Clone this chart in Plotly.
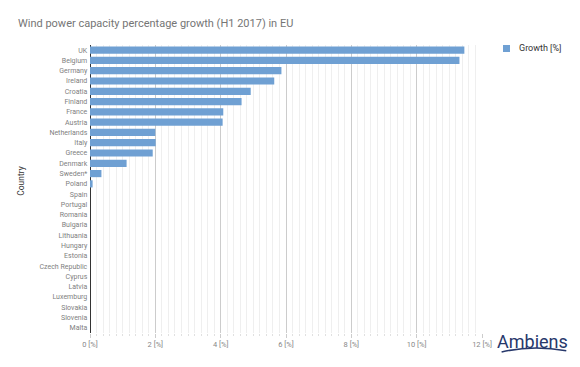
import plotly.graph_objects as go

countries = ["UK", "Belgium", "Germany", "Ireland", "Croatia", "Finland", "France", "Austria",
             "Netherlands", "Italy", "Greece", "Denmark", "Sweden*", "Poland", "Spain", "Portugal",
             "Romania", "Bulgaria", "Lithuania", "Hungary", "Estonia", "Czech Republic", "Cyprus",
             "Latvia", "Luxemburg", "Slovakia", "Slovenia", "Malta"]
growth = [11.46, 11.31, 5.86, 5.64, 4.92, 4.64, 4.08, 4.06,
          2.0, 2.01, 1.92, 1.12, 0.35, 0.08, 0, 0,
          0, 0, 0, 0, 0, 0, 0,
          0, 0, 0, 0, 0]
tick_vals = [0, 2, 4, 6, 8, 10, 12]
tick_text = ["0 [%]", "2 [%]", "4 [%]", "6 [%]", "8 [%]", "10 [%]", "12 [%]"]
series_name = "Growth [%]"
bar_color = "#6fa0d3"

fig = go.Figure()
fig.add_trace(go.Bar(
    y=countries, x=growth, orientation="h", name=series_name,
    marker=dict(color=bar_color, line=dict(width=0)),
))

fig.update_layout(
    width=580, height=367,
    margin=dict(l=90, r=98, t=45, b=34, autoexpand=False),
    paper_bgcolor="white", plot_bgcolor="white",
    font=dict(family="Roboto", color="#757575"),
    bargap=0.3,
    title=dict(text="Wind power capacity percentage growth (H1 2017) in EU",
               x=0.031, xanchor="left", y=0.937, yanchor="middle",
               font=dict(size=11, color="#757575", family="Roboto")),
    showlegend=False,
    xaxis=dict(range=[0, 12], tickvals=tick_vals, ticktext=tick_text,
               showgrid=True, gridcolor="#cccccc", gridwidth=1,
               zeroline=True, zerolinecolor="#333333", zerolinewidth=1,
               tickfont=dict(size=7.5, color="#888888"),
               ticks="outside", ticklen=4, tickcolor="#cccccc",
               minor=dict(dtick=0.2, showgrid=True, gridcolor="#efefef",
                          ticks="outside", ticklen=2, tickcolor="#e0e0e0"),
               showline=False, automargin=False),
    yaxis=dict(autorange="reversed", showgrid=False,
               tickfont=dict(size=7, color="#808080"), ticks="",
               ticksuffix=" ", automargin=False, showline=False),
)

# legend (manual, to match placement)
fig.add_shape(type="rect", xref="paper", yref="paper",
              x0=1.0536, x1=1.0714, y0=0.9757, y1=1.0,
              fillcolor=bar_color, line=dict(width=0))
fig.add_annotation(text=series_name, xref="paper", yref="paper", x=1.089, y=0.988,
                   xanchor="left", yanchor="middle", showarrow=False,
                   font=dict(size=9, color="#333333"))

fig.add_annotation(text="Country", xref="paper", yref="paper", x=-0.175, y=0.53,
                   xanchor="center", yanchor="middle", showarrow=False, textangle=-90,
                   font=dict(size=8.5, color="#333333"))

fig.add_annotation(text="Ambiens", xref="paper", yref="paper", x=1.13, y=-0.028,
                   xanchor="center", yanchor="middle", showarrow=False,
                   font=dict(family="Roboto", size=18, color="#27386b"))
fig.add_shape(type="path", xref="paper", yref="paper",
              path="M 1.05 -0.066 Q 1.13 -0.04 1.215 -0.062",
              line=dict(color="#27386b", width=1.5))

fig.write_html("out.html", config={"displayModeBar": False},
               post_script="document.body.style.margin='0';")
